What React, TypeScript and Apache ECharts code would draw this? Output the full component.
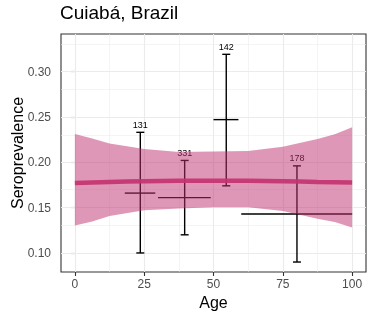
import React, { useEffect, useRef } from "react";
import * as echarts from "echarts";

// Age-group observations
const ageMid = [23.6, 39.6, 54.6, 80.1];
const ageMin = [18, 30, 50, 60];
const ageMax = [29, 49, 59, 100];
const estimate = [0.166, 0.161, 0.247, 0.143];
const lowerCI = [0.1, 0.12, 0.174, 0.09];
const upperCI = [0.233, 0.202, 0.319, 0.196];
const sampleN = [131, 331, 142, 178];

// Fitted curve
const fitAge = [0, 12.5, 25, 37.5, 50, 62.5, 75, 87.5, 100];
const fitValue = [0.1772, 0.1782, 0.179, 0.1795, 0.1797, 0.1795, 0.179, 0.1783, 0.1776];

// Confidence ribbon
const ribbonAge = [0, 6.25, 12.5, 25, 37.5, 50, 62.5, 75, 87.5, 93.75, 100];
const ribbonUpper = [0.2311, 0.2263, 0.2208, 0.2145, 0.2112, 0.2118, 0.2123, 0.217, 0.2256, 0.231, 0.2385];
const ribbonLower = [0.1304, 0.1348, 0.1407, 0.147, 0.149, 0.1505, 0.1505, 0.1462, 0.1378, 0.134, 0.128];

// Axes
const xTicks = [0, 25, 50, 75, 100];
const xMinor = [12.5, 37.5, 62.5, 87.5];
const yTicks = [0.1, 0.15, 0.2, 0.25, 0.3];
const yMinor = [0.125, 0.175, 0.225, 0.275, 0.325];
const xRange = [-5, 105];
const yRange = [0.079, 0.3414];

const FONT = "'Liberation Sans', Arial, Helvetica, sans-serif";

export default function App() {
  const ref = useRef<HTMLDivElement>(null);
  useEffect(() => {
    document.body.style.margin = "0";
    const chart = echarts.init(ref.current!, null, { renderer: "svg" });
    const gridMajor = { color: "#EBEBEB", width: 1.1, type: "solid" };
    const gridMinor = { color: "#EBEBEB", width: 0.55, type: "solid" };
    const markData: any[] = [
      ...xMinor.map((v) => ({ xAxis: v, lineStyle: gridMinor })),
      ...yMinor.map((v) => ({ yAxis: v, lineStyle: gridMinor })),
      ...xTicks.map((v) => ({ xAxis: v, lineStyle: gridMajor })),
      ...yTicks.map((v) => ({ yAxis: v, lineStyle: gridMajor })),
    ];
    chart.setOption({
      animation: false,
      title: {
        text: "Cuiabá, Brazil",
        left: 60,
        top: 3,
        padding: 0,
        textStyle: { fontFamily: FONT, fontSize: 19, fontWeight: "normal", color: "#000" },
      },
      grid: {
        left: 61,
        right: 8,
        top: 34,
        bottom: 48,
        containLabel: false,
        outerBoundsMode: "none",
        show: true,
        borderColor: "#333333",
        borderWidth: 1.1,
        backgroundColor: "transparent",
      },
      xAxis: {
        type: "value",
        min: xRange[0],
        max: xRange[1],
        name: "Age",
        nameLocation: "middle",
        nameGap: 22,
        nameMoveOverlap: false,
        nameTextStyle: { fontFamily: FONT, fontSize: 16, color: "#000" },
        axisLine: { show: false },
        splitLine: { show: false },
        axisTick: { show: true, customValues: xTicks, length: 4, lineStyle: { color: "#333333", width: 1.1 } },
        axisLabel: { customValues: xTicks, margin: 6, fontFamily: FONT, fontSize: 12, color: "#4D4D4D" },
      },
      yAxis: {
        type: "value",
        min: yRange[0],
        max: yRange[1],
        name: "Seroprevalence",
        nameLocation: "middle",
        nameGap: 36,
        nameRotate: 90,
        nameMoveOverlap: false,
        nameTextStyle: { fontFamily: FONT, fontSize: 16, color: "#000" },
        axisLine: { show: false },
        splitLine: { show: false },
        axisTick: { show: true, customValues: yTicks, length: 4, lineStyle: { color: "#333333", width: 1.1 } },
        axisLabel: {
          customValues: yTicks,
          margin: 10,
          fontFamily: FONT,
          fontSize: 12,
          color: "#4D4D4D",
          formatter: (v: number) => v.toFixed(2),
        },
      },
      series: [
        {
          type: "line",
          data: [[xRange[0], yRange[0]]],
          symbol: "none",
          lineStyle: { opacity: 0 },
          silent: true,
          z: 0,
          markLine: {
            z: 1,
            silent: true,
            symbol: ["none", "none"],
            label: { show: false },
            animation: false,
            data: markData,
          },
        },
        {
          type: "custom",
          z: 2,
          data: ageMid.map((a, i) => [a, lowerCI[i], upperCI[i], estimate[i], ageMin[i], ageMax[i], sampleN[i]]),
          encode: { x: 0, y: [1, 2] },
          renderItem: (params: any, api: any) => {
            const x = api.value(0);
            const lo = api.value(1);
            const hi = api.value(2);
            const e = api.value(3);
            const x0 = api.value(4);
            const x1 = api.value(5);
            const n = api.value(6);
            const pTop = api.coord([x, hi]);
            const pBot = api.coord([x, lo]);
            const pL = api.coord([x0, e]);
            const pR = api.coord([x1, e]);
            const style = { stroke: "#000", lineWidth: 1.4 };
            const cap = 4;
            return {
              type: "group",
              children: [
                { type: "line", shape: { x1: pTop[0], y1: pTop[1], x2: pBot[0], y2: pBot[1] }, style },
                { type: "line", shape: { x1: pTop[0] - cap, y1: pTop[1], x2: pTop[0] + cap, y2: pTop[1] }, style },
                { type: "line", shape: { x1: pBot[0] - cap, y1: pBot[1], x2: pBot[0] + cap, y2: pBot[1] }, style },
                { type: "line", shape: { x1: pL[0], y1: pL[1], x2: pR[0], y2: pR[1] }, style },
                {
                  type: "text",
                  x: pTop[0],
                  y: pTop[1] - 3,
                  style: {
                    text: String(n),
                    align: "center",
                    verticalAlign: "bottom",
                    fontSize: 9,
                    fontFamily: FONT,
                    fill: "#000",
                  },
                },
              ],
            };
          },
        },
        {
          type: "custom",
          z: 3,
          silent: true,
          data: [[ribbonAge[0], ribbonLower[0]]],
          encode: { x: 0, y: 1 },
          renderItem: (params: any, api: any) => {
            const top = ribbonAge.map((a, i) => api.coord([a, ribbonUpper[i]]));
            const bottom = ribbonAge.map((a, i) => api.coord([a, ribbonLower[i]])).reverse();
            return {
              type: "polygon",
              shape: { points: [...top, ...bottom] },
              style: { fill: "rgba(192,48,111,0.5)" },
            };
          },
        },
        {
          type: "line",
          data: fitAge.map((a, i) => [a, fitValue[i]]),
          symbol: "none",
          smooth: true,
          lineStyle: { color: "#C43470", width: 4.5, opacity: 0.92 },
          silent: true,
          z: 4,
        },
      ],
    });
    return () => chart.dispose();
  }, []);
  return <div ref={ref} style={{ width: 374, height: 320, position: "fixed", left: 0, top: 0 }} />;
}
